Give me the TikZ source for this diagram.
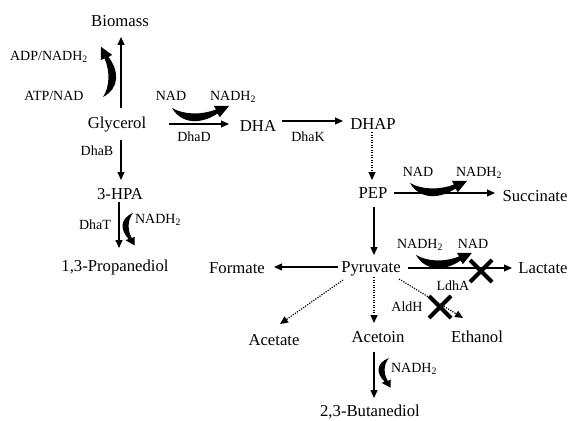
\documentclass[tikz,border=0pt]{standalone}
\usepackage{fontspec}
\setmainfont{Liberation Serif}
\usetikzlibrary{arrows.meta}
\tikzset{
  cofactor/.pic={
    \fill (0,0) .. controls (10,17) and (30,16) .. (45.5,5.5) -- (47.8,9.2) -- (57,-2)
      -- (41.8,-2.2) -- (44,1.5) .. controls (30,7) and (12,7) .. (0,0) -- cycle;
  }
}
\begin{document}
\begin{tikzpicture}[x=1pt,y=-1pt,
  big/.style={font=\fontsize{16.7}{18}\selectfont, inner sep=0pt, text height=11pt, text depth=3pt},
  small/.style={font=\fontsize{14}{16}\selectfont, inner sep=0pt, text height=9.5pt, text depth=2.5pt},
  arr/.style={line width=1.2pt, -{Triangle[length=8pt,width=7pt]}},
  darr/.style={arr, dash pattern=on 1.2pt off 1.3pt},
  xmark/.style={line width=4pt}]
\useasboundingbox (0,0) rectangle (569,420);

% main metabolites
\node[big] (bio)  at (120,23)  {Biomass};
\node[big] (gly)  at (117,124) {Glycerol};
\node[big] (dha)  at (258,127) {DHA};
\node[big] (dhap) at (373,125) {DHAP};
\node[big] (hpa)  at (120,195) {3-HPA};
\node[big] (pdo)  at (115,267) {1,3-Propanediol};
\node[big] (pep)  at (373,194) {PEP};
\node[big] (suc)  at (535,197) {Succinate};
\node[big] (pyr)  at (371,268) {Pyruvate};
\node[big] (form) at (237,269) {Formate};
\node[big] (lac)  at (543,269) {Lactate};
\node[big] (acet) at (274,341) {Acetate};
\node[big] (acn)  at (378,338) {Acetoin};
\node[big] (eth)  at (477,338) {Ethanol};
\node[big] (bdo)  at (370,412) {2,3-Butanediol};

% small labels
\node[small] (adp)   at (49,57)   {ADP/NADH\textsubscript{2}};
\node[small] (atp)   at (54,97)   {ATP/NAD};
\node[small] (nad1)  at (171,97)  {NAD};
\node[small] (nadh1) at (233,97)  {NADH\textsubscript{2}};
\node[small] (dhad)  at (194,138) {DhaD};
\node[small] (dhak)  at (308,138) {DhaK};
\node[small] (dhab)  at (97,152)  {DhaB};
\node[small] (dhat)  at (95,226)  {DhaT};
\node[small] (nadh3) at (158,220) {NADH\textsubscript{2}};
\node[small] (nad2)  at (418,173) {NAD};
\node[small] (nadh2) at (479,173) {NADH\textsubscript{2}};
\node[small] (nadh4) at (420,245) {NADH\textsubscript{2}};
\node[small] (nad3)  at (473,245) {NAD};
\node[small] (ldha)  at (453,287) {LdhA};
\node[small] (aldh)  at (407,308) {AldH};
\node[small] (nadh5) at (414,369) {NADH\textsubscript{2}};

% connectors
\draw[arr] ([shift={(4,-16)}]gly.center) -- ([shift={(1,14)}]bio.center);
\draw[arr] ([shift={(52,0)}]gly.center) -- ([shift={(-29,-3)}]dha.center);
\draw[arr] ([shift={(24,-6)}]dha.center) -- ([shift={(-30,-4)}]dhap.center);
\draw[darr] ([shift={(-1,7)}]dhap.center) -- ([shift={(-1,-14)}]pep.center);
\draw[arr] ([shift={(4,16)}]gly.center) -- ([shift={(1,-15)}]hpa.center);
\draw[arr] ([shift={(-1,7)}]hpa.center) -- ([shift={(4,-19)}]pdo.center);
\draw[arr] ([shift={(21,-1)}]pep.center) -- ([shift={(-40,-4)}]suc.center);
\draw[arr] ([shift={(1,13)}]pep.center) -- ([shift={(3,-13)}]pyr.center);
\draw[arr] ([shift={(37,0)}]pyr.center) -- ([shift={(-31,-1)}]lac.center);
\draw[arr] ([shift={(-33,-1)}]pyr.center) -- ([shift={(37,-2)}]form.center);
\draw[darr] ([shift={(-28,12)}]pyr.center) -- ([shift={(6,-17)}]acet.center);
\draw[darr] ([shift={(3,9)}]pyr.center) -- ([shift={(-4,-15)}]acn.center);
\draw[darr] ([shift={(28,11)}]pyr.center) -- ([shift={(-14,-20)}]eth.center);
\draw[arr] ([shift={(-4,14)}]acn.center) -- ([shift={(4,-14)}]bdo.center);

% cofactor curved arrows
\pic[shift={(103,97)}, rotate=90, xscale=0.88] {cofactor};
\pic[shift={(172,108)}] {cofactor};
\pic[shift={(410,183)}] {cofactor};
\pic[shift={(416,255)}, xscale=0.98] {cofactor};
\pic[shift={(133,213)}, rotate=-90, xscale=0.57, yscale=0.8] {cofactor};
\pic[shift={(389,358)}, rotate=-90, xscale=0.52, yscale=0.8] {cofactor};

% blocked reactions
\draw[xmark] (470,260) -- (492,282) (470,282) -- (492,260);
\draw[xmark] (429,296) -- (451,318) (429,318) -- (451,296);
\end{tikzpicture}
\end{document}
